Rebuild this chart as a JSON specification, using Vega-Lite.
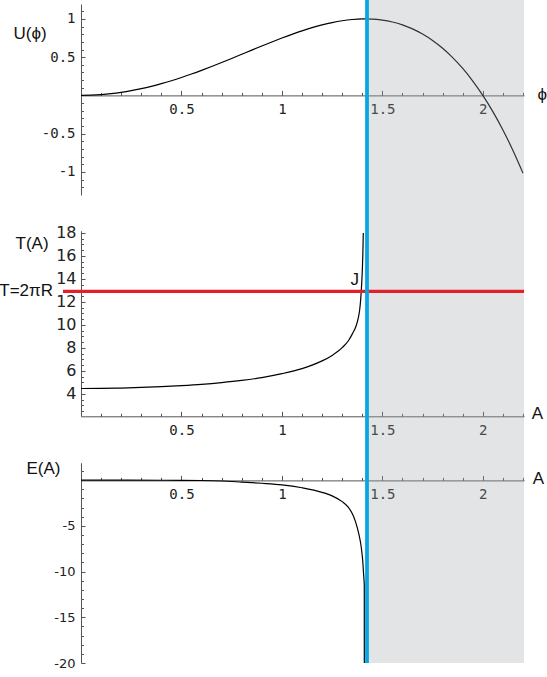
{
  "$schema": "https://vega.github.io/schema/vega-lite/v6.json",
  "width": 443,
  "height": 663,
  "autosize": {"type": "none"},
  "padding": {"left": 81, "top": 0, "right": 23, "bottom": 14},
  "background": "white",
  "config": {
    "view": {"stroke": null},
    "axis": {
      "grid": false,
      "domainColor": "#555",
      "tickColor": "#555",
      "labelColor": "#222",
      "titleColor": "#111",
      "titleFont": "Liberation Sans",
      "titleFontSize": 17,
      "titleFontWeight": "normal",
      "titlePadding": 0,
      "labelFont": "DejaVu Sans Mono",
      "labelFontSize": 14,
      "labelOverlap": false,
      "labelFlush": false,
      "labelBound": false
    }
  },
  "datasets": {
    "U": [
      {"phi": 0, "U": 0}, {"phi": 0.05, "U": 0.0025}, {"phi": 0.1, "U": 0.00998}, {"phi": 0.15, "U": 0.02237},
      {"phi": 0.2, "U": 0.0396}, {"phi": 0.25, "U": 0.06152}, {"phi": 0.3, "U": 0.08798}, {"phi": 0.35, "U": 0.11875},
      {"phi": 0.4, "U": 0.1536}, {"phi": 0.45, "U": 0.19225}, {"phi": 0.5, "U": 0.23438}, {"phi": 0.55, "U": 0.27962},
      {"phi": 0.6, "U": 0.3276}, {"phi": 0.65, "U": 0.37787}, {"phi": 0.7, "U": 0.42998}, {"phi": 0.75, "U": 0.4834},
      {"phi": 0.8, "U": 0.5376}, {"phi": 0.85, "U": 0.592}, {"phi": 0.9, "U": 0.64598}, {"phi": 0.95, "U": 0.69887},
      {"phi": 1.0, "U": 0.75}, {"phi": 1.05, "U": 0.79862}, {"phi": 1.1, "U": 0.84398}, {"phi": 1.15, "U": 0.88525},
      {"phi": 1.2, "U": 0.9216}, {"phi": 1.25, "U": 0.95215}, {"phi": 1.3, "U": 0.97598}, {"phi": 1.35, "U": 0.99212},
      {"phi": 1.4, "U": 0.9996}, {"phi": 1.45, "U": 0.99737}, {"phi": 1.5, "U": 0.98438}, {"phi": 1.55, "U": 0.9595},
      {"phi": 1.6, "U": 0.9216}, {"phi": 1.65, "U": 0.8695}, {"phi": 1.7, "U": 0.80198}, {"phi": 1.75, "U": 0.71777},
      {"phi": 1.8, "U": 0.6156}, {"phi": 1.85, "U": 0.49412}, {"phi": 1.9, "U": 0.35198}, {"phi": 1.95, "U": 0.18787},
      {"phi": 2.0, "U": 0}, {"phi": 2.05, "U": -0.21263}, {"phi": 2.1, "U": -0.45203}, {"phi": 2.15, "U": -0.71938},
      {"phi": 2.2, "U": -1.0164}
    ],
    "T": [
      {"A": 0, "T": 4.47}, {"A": 0.1, "T": 4.48}, {"A": 0.2, "T": 4.51}, {"A": 0.3, "T": 4.56},
      {"A": 0.4, "T": 4.63}, {"A": 0.5, "T": 4.72}, {"A": 0.6, "T": 4.83}, {"A": 0.7, "T": 4.98},
      {"A": 0.8, "T": 5.17}, {"A": 0.9, "T": 5.42}, {"A": 1.0, "T": 5.76}, {"A": 1.1, "T": 6.2},
      {"A": 1.15, "T": 6.5}, {"A": 1.2, "T": 6.87}, {"A": 1.25, "T": 7.35}, {"A": 1.3, "T": 8.02},
      {"A": 1.33, "T": 8.6}, {"A": 1.35, "T": 9.2}, {"A": 1.37, "T": 9.95}, {"A": 1.38, "T": 10.6},
      {"A": 1.387, "T": 11.3}, {"A": 1.392, "T": 12.2}, {"A": 1.395, "T": 12.95}, {"A": 1.398, "T": 13.9},
      {"A": 1.401, "T": 15.1}, {"A": 1.403, "T": 16.3}, {"A": 1.404, "T": 17.1}, {"A": 1.405, "T": 18.0}
    ],
    "E": [
      {"A": 0, "E": 0}, {"A": 0.2, "E": -0.002}, {"A": 0.4, "E": -0.008}, {"A": 0.5, "E": -0.015},
      {"A": 0.6, "E": -0.035}, {"A": 0.7, "E": -0.09}, {"A": 0.8, "E": -0.21}, {"A": 0.9, "E": -0.34},
      {"A": 1.0, "E": -0.51}, {"A": 1.1, "E": -0.83}, {"A": 1.2, "E": -1.33}, {"A": 1.25, "E": -1.72},
      {"A": 1.3, "E": -2.35}, {"A": 1.33, "E": -2.95}, {"A": 1.35, "E": -3.65}, {"A": 1.365, "E": -4.45},
      {"A": 1.375, "E": -5.2}, {"A": 1.385, "E": -6.1}, {"A": 1.392, "E": -6.9}, {"A": 1.397, "E": -7.7},
      {"A": 1.4, "E": -8.3}, {"A": 1.403, "E": -9.0}, {"A": 1.405, "E": -9.75}, {"A": 1.408, "E": -10.7},
      {"A": 1.41, "E": -11.5}, {"A": 1.4102, "E": -20}
    ],
    "band": [{"A": 1.4236, "A2": 2.205}],
    "cut": [{"A": 1.4236}],
    "period": [{"A": -0.0896, "A2": 2.205, "T": 12.92}],
    "notes": [
      {"A": -0.139, "T": 12.92, "label": "T=2πR"},
      {"A": 1.384, "T": 13.9, "label": "J"}
    ]
  },
  "layer": [
    {
      "data": {"name": "U"},
      "mark": {"type": "line", "color": "#000", "strokeWidth": 1.2, "interpolate": "monotone"},
      "encoding": {
        "x": {"field": "phi", "type": "quantitative",
          "scale": {"domain": [0, 2.205], "nice": false, "zero": false},
          "axis": {"orient": "bottom", "offset": -567.6, "values": [0.5, 1, 1.5, 2], "tickSize": -5, "labelPadding": 12,
            "labelExpr": "datum.value + ''", "title": "ϕ", "titleX": 460.7, "titleY": -1, "titleAlign": "center",
            "titleBaseline": "middle", "titleAngle": 0}},
        "y": {"field": "U", "type": "quantitative",
          "scale": {"domain": [-1.302, 1.195], "range": [195, 4], "nice": false, "zero": false},
          "axis": {"orient": "left", "values": [-1, -0.5, 0.5, 1], "tickSize": -4, "labelPadding": 10,
            "labelExpr": "datum.value + ''", "title": "U(ϕ)", "titleAngle": 0, "titleAlign": "left",
            "titleBaseline": "alphabetic", "titleX": -68, "titleY": 38.5}}
      }
    },
    {
      "data": {"name": "U"},
      "mark": {"type": "line", "opacity": 0},
      "encoding": {
        "x": {"field": "phi", "type": "quantitative",
          "scale": {"domain": [0, 2.205], "nice": false, "zero": false},
          "axis": {"orient": "bottom", "offset": -567.6, "values": [0.1, 0.2, 0.3, 0.4, 0.6, 0.7, 0.8, 0.9, 1.1, 1.2, 1.3, 1.4, 1.6, 1.7, 1.8, 1.9, 2.1, 2.2],
            "tickSize": -3, "labels": false, "domain": false, "title": null}},
        "y": {"field": "U", "type": "quantitative",
          "scale": {"domain": [-1.302, 1.195], "range": [195, 4], "nice": false, "zero": false},
          "axis": {"orient": "left", "values": [-1.2, -1.1, -0.9, -0.8, -0.7, -0.6, -0.4, -0.3, -0.2, -0.1, 0.1, 0.2, 0.3, 0.4, 0.6, 0.7, 0.8, 0.9, 1.1],
            "tickSize": -2.5, "labels": false, "domain": false, "title": null}}
      }
    },
    {
      "data": {"name": "T"},
      "mark": {"type": "line", "color": "#000", "strokeWidth": 1.2, "interpolate": "monotone"},
      "encoding": {
        "x": {"field": "A", "type": "quantitative",
          "scale": {"domain": [0, 2.205], "nice": false, "zero": false},
          "axis": {"orient": "bottom", "offset": -246.7, "values": [0.5, 1, 1.5, 2], "tickSize": -5, "labelPadding": 12,
            "labelExpr": "datum.value + ''", "title": "A", "titleX": 456, "titleY": -3, "titleAlign": "center",
            "titleBaseline": "middle", "titleAngle": 0}},
        "y": {"field": "T", "type": "quantitative",
          "scale": {"domain": [2.05, 18.2], "range": [416.3, 230.7], "nice": false, "zero": false},
          "axis": {"orient": "left", "values": [4, 6, 8, 10, 12, 14, 16, 18], "tickSize": -4, "labelPadding": 9,
            "labelFont": "DejaVu Sans", "labelFontSize": 16,
            "labelExpr": "datum.value + ''", "title": "T(A)", "titleAngle": 0, "titleAlign": "left",
            "titleBaseline": "alphabetic", "titleX": -66, "titleY": 248.5}}
      }
    },
    {
      "data": {"name": "T"},
      "mark": {"type": "line", "opacity": 0},
      "encoding": {
        "x": {"field": "A", "type": "quantitative",
          "scale": {"domain": [0, 2.205], "nice": false, "zero": false},
          "axis": {"orient": "bottom", "offset": -246.7, "values": [0.1, 0.2, 0.3, 0.4, 0.6, 0.7, 0.8, 0.9, 1.1, 1.2, 1.3, 1.4, 1.6, 1.7, 1.8, 1.9, 2.1, 2.2],
            "tickSize": -3, "labels": false, "domain": false, "title": null}},
        "y": {"field": "T", "type": "quantitative",
          "scale": {"domain": [2.05, 18.2], "range": [416.3, 230.7], "nice": false, "zero": false},
          "axis": {"orient": "left", "values": [2.5, 3, 3.5, 4.5, 5, 5.5, 6.5, 7, 7.5, 8.5, 9, 9.5, 10.5, 11, 11.5, 12.5, 13, 13.5, 14.5, 15, 15.5, 16.5, 17, 17.5],
            "tickSize": -2.5, "labels": false, "domain": false, "title": null}}
      }
    },
    {
      "data": {"name": "E"},
      "mark": {"type": "line", "color": "#000", "strokeWidth": 1.2, "interpolate": "monotone"},
      "encoding": {
        "x": {"field": "A", "type": "quantitative",
          "scale": {"domain": [0, 2.205], "nice": false, "zero": false},
          "axis": {"orient": "bottom", "offset": -182.6, "values": [0.5, 1, 1.5, 2], "tickSize": -5, "labelPadding": 12,
            "labelExpr": "datum.value + ''", "title": "A", "titleX": 457, "titleY": -2.4, "titleAlign": "center",
            "titleBaseline": "middle", "titleAngle": 0}},
        "y": {"field": "E", "type": "quantitative",
          "scale": {"domain": [-20, 1.91], "range": [663, 462.7], "nice": false, "zero": false},
          "axis": {"orient": "left", "values": [-20, -15, -10, -5], "tickSize": -4, "labelPadding": 10,
            "labelFont": "DejaVu Sans", "labelFontSize": 13,
            "labelExpr": "datum.value + ''", "title": "E(A)", "titleAngle": 0, "titleAlign": "left",
            "titleBaseline": "alphabetic", "titleX": -55, "titleY": 473}}
      }
    },
    {
      "data": {"name": "E"},
      "mark": {"type": "line", "opacity": 0},
      "encoding": {
        "x": {"field": "A", "type": "quantitative",
          "scale": {"domain": [0, 2.205], "nice": false, "zero": false},
          "axis": {"orient": "bottom", "offset": -182.6, "values": [0.1, 0.2, 0.3, 0.4, 0.6, 0.7, 0.8, 0.9, 1.1, 1.2, 1.3, 1.4, 1.6, 1.7, 1.8, 1.9, 2.1, 2.2],
            "tickSize": -3, "labels": false, "domain": false, "title": null}},
        "y": {"field": "E", "type": "quantitative",
          "scale": {"domain": [-20, 1.91], "range": [663, 462.7], "nice": false, "zero": false},
          "axis": {"orient": "left", "values": [-19, -18, -17, -16, -14, -13, -12, -11, -9, -8, -7, -6, -4, -3, -2, -1, 1],
            "tickSize": -2.5, "labels": false, "domain": false, "title": null}}
      }
    },
    {
      "data": {"name": "band"},
      "mark": {"type": "rect", "color": "#a0a5ad", "opacity": 0.3},
      "encoding": {
        "x": {"field": "A", "type": "quantitative", "scale": {"domain": [0, 2.205], "nice": false, "zero": false}, "axis": null},
        "x2": {"field": "A2"}
      }
    },
    {
      "data": {"name": "period"},
      "mark": {"type": "rule", "color": "#e3202a", "strokeWidth": 3.2},
      "encoding": {
        "x": {"field": "A", "type": "quantitative", "scale": {"domain": [0, 2.205], "nice": false, "zero": false}, "axis": null},
        "x2": {"field": "A2"},
        "y": {"field": "T", "type": "quantitative",
          "scale": {"domain": [2.05, 18.2], "range": [416.3, 230.7], "nice": false, "zero": false}, "axis": null}
      }
    },
    {
      "data": {"name": "notes"},
      "mark": {"type": "text", "align": "right", "baseline": "middle", "font": "Liberation Sans", "fontSize": 17, "color": "#111"},
      "encoding": {
        "x": {"field": "A", "type": "quantitative", "scale": {"domain": [0, 2.205], "nice": false, "zero": false}, "axis": null},
        "y": {"field": "T", "type": "quantitative",
          "scale": {"domain": [2.05, 18.2], "range": [416.3, 230.7], "nice": false, "zero": false}, "axis": null},
        "text": {"field": "label"}
      }
    },
    {
      "data": {"name": "cut"},
      "mark": {"type": "rule", "color": "#0aa6e4", "strokeWidth": 3.8},
      "encoding": {
        "x": {"field": "A", "type": "quantitative", "scale": {"domain": [0, 2.205], "nice": false, "zero": false}, "axis": null}
      }
    }
  ],
  "resolve": {"scale": {"y": "independent"}, "axis": {"x": "independent", "y": "independent"}}
}
